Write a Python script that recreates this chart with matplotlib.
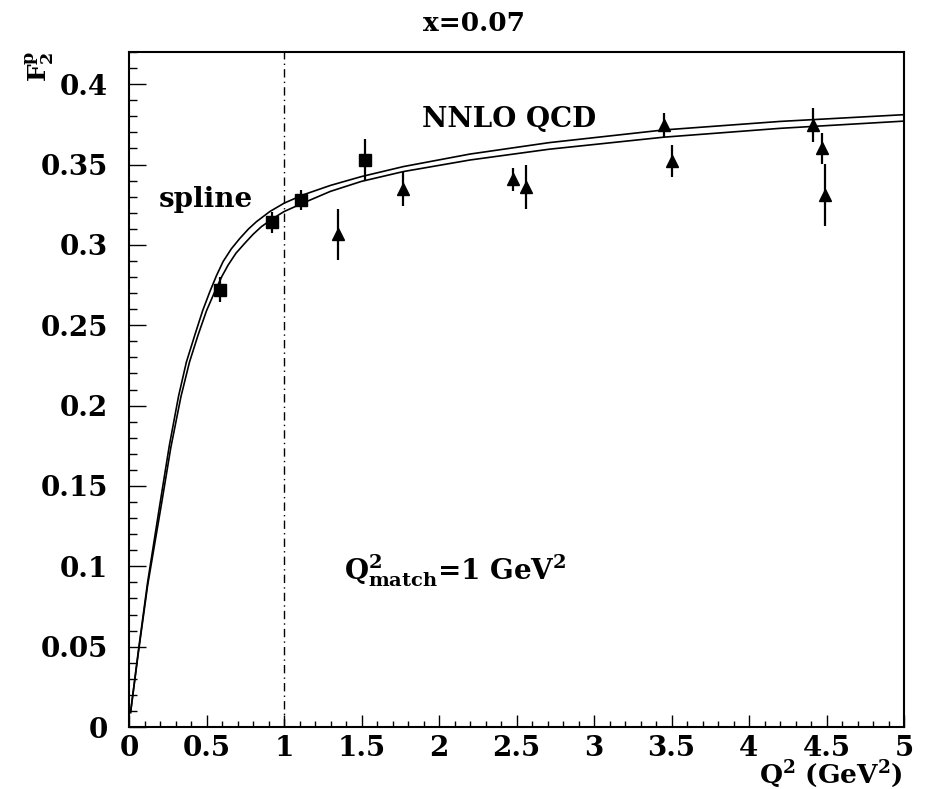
import matplotlib
matplotlib.use("Agg")
import matplotlib.pyplot as plt
from matplotlib.ticker import MultipleLocator

plt.rcParams['font.family'] = ['DejaVu Serif']
plt.rcParams['font.weight'] = 'bold'
plt.rcParams['mathtext.fontset'] = 'dejavuserif'
plt.rcParams['mathtext.default'] = 'bf'

# data points
sq_x = [0.59, 0.92, 1.11, 1.52]
sq_y = [0.272, 0.314, 0.328, 0.353]
sq_err = [0.0078, 0.0065, 0.0064, 0.0128]

tri_x = [1.35, 1.77, 2.48, 2.56, 3.45, 3.50, 4.41, 4.47, 4.49]
tri_y = [0.3066, 0.3346, 0.3408, 0.3358, 0.3746, 0.3522, 0.3746, 0.360, 0.331]
tri_err = [0.016, 0.0107, 0.007, 0.0137, 0.0075, 0.010, 0.0103, 0.0095, 0.0195]

# the two curves (spline + NNLO QCD band edges)
up_x = [0.01, 0.06, 0.12, 0.20, 0.26, 0.32, 0.37, 0.425, 0.475, 0.522, 0.565,
        0.607, 0.66, 0.715, 0.77, 0.822, 0.908, 1.0, 1.12, 1.3, 1.5, 1.77,
        2.2, 2.71, 3.45, 4.2, 5.0]
up_y = [0.009, 0.047, 0.090, 0.139, 0.175, 0.206, 0.227, 0.244, 0.259, 0.271,
        0.281, 0.2896, 0.2975, 0.304, 0.3098, 0.3144, 0.3207, 0.3259, 0.331,
        0.337, 0.3425, 0.3487, 0.3565, 0.3636, 0.3715, 0.3768, 0.381]
lo_x = [0.01, 0.06, 0.12, 0.21, 0.27, 0.335, 0.39, 0.446, 0.50, 0.554, 0.60,
        0.64, 0.69, 0.747, 0.80, 0.854, 0.93, 1.0, 1.12, 1.3, 1.5, 1.77,
        2.2, 2.71, 3.45, 4.2, 5.0]
lo_y = [0.009, 0.046, 0.088, 0.139, 0.174, 0.2055, 0.227, 0.244, 0.259, 0.271,
        0.2805, 0.2875, 0.2948, 0.301, 0.3065, 0.3113, 0.3165, 0.3207, 0.3259,
        0.3333, 0.3395, 0.3456, 0.3528, 0.3595, 0.367, 0.3725, 0.377]

q2_match = 1.0

W, H = 926, 789
fig = plt.figure(figsize=(W / 100, H / 100), dpi=100)
ax = fig.add_axes([129 / W, 62 / H, 775 / W, 675 / H])

ax.plot(up_x, up_y, color='black', lw=1.2)
ax.plot(lo_x, lo_y, color='black', lw=1.2)

ax.errorbar(sq_x, sq_y, yerr=sq_err, fmt='s', color='black', ms=9,
            elinewidth=1.6, capsize=0)
ax.errorbar(tri_x, tri_y, yerr=tri_err, fmt='^', color='black', ms=9,
            elinewidth=1.6, capsize=0)

ax.axvline(q2_match, color='black', lw=1.0, ls=(0, (6, 3, 1, 3)))

ax.set_xlim(0, 5)
ax.set_ylim(0, 0.42)

ax.set_xticks([0, 0.5, 1, 1.5, 2, 2.5, 3, 3.5, 4, 4.5, 5],
              labels=['0', '0.5', '1', '1.5', '2', '2.5', '3', '3.5', '4', '4.5', '5'])
ax.set_yticks([0, 0.05, 0.1, 0.15, 0.2, 0.25, 0.3, 0.35, 0.4],
              labels=['0', '0.05', '0.1', '0.15', '0.2', '0.25', '0.3', '0.35', '0.4'])
ax.xaxis.set_minor_locator(MultipleLocator(0.1))
ax.yaxis.set_minor_locator(MultipleLocator(0.01))

ax.tick_params(axis='both', which='both', direction='in', top=False, right=False,
               labelsize=20, width=1.0)
ax.tick_params(axis='x', which='major', length=8.5, pad=6)
ax.tick_params(axis='x', which='minor', length=4.5)
ax.tick_params(axis='y', which='major', length=12, pad=15)
ax.tick_params(axis='y', which='minor', length=6)
for lab in ax.get_xticklabels() + ax.get_yticklabels():
    lab.set_fontweight('bold')
for sp in ax.spines.values():
    sp.set_linewidth(1.5)

ax.text(0.193, 0.3236, 'spline', fontsize=20, fontweight='bold')
ax.text(1.893, 0.3736, 'NNLO QCD', fontsize=20, fontweight='bold')
ax.text(1.39, 0.0915, r'Q$^2_{match}$=1 GeV$^2$', fontsize=20, fontweight='bold')

fig.text(474 / W, 1 - 31 / H, 'x=0.07', fontsize=19, fontweight='bold',
         ha='center', va='baseline')
fig.text(903 / W, 1 - 783 / H, r'Q$^2$ (GeV$^2$)', fontsize=19, fontweight='bold',
         ha='right', va='baseline')
fig.text(40 / W, 1 - 66 / H, r'F$^p_2$', fontsize=18, fontweight='bold',
         rotation=90, ha='center', va='center')

fig.savefig('out.png', dpi=100)
